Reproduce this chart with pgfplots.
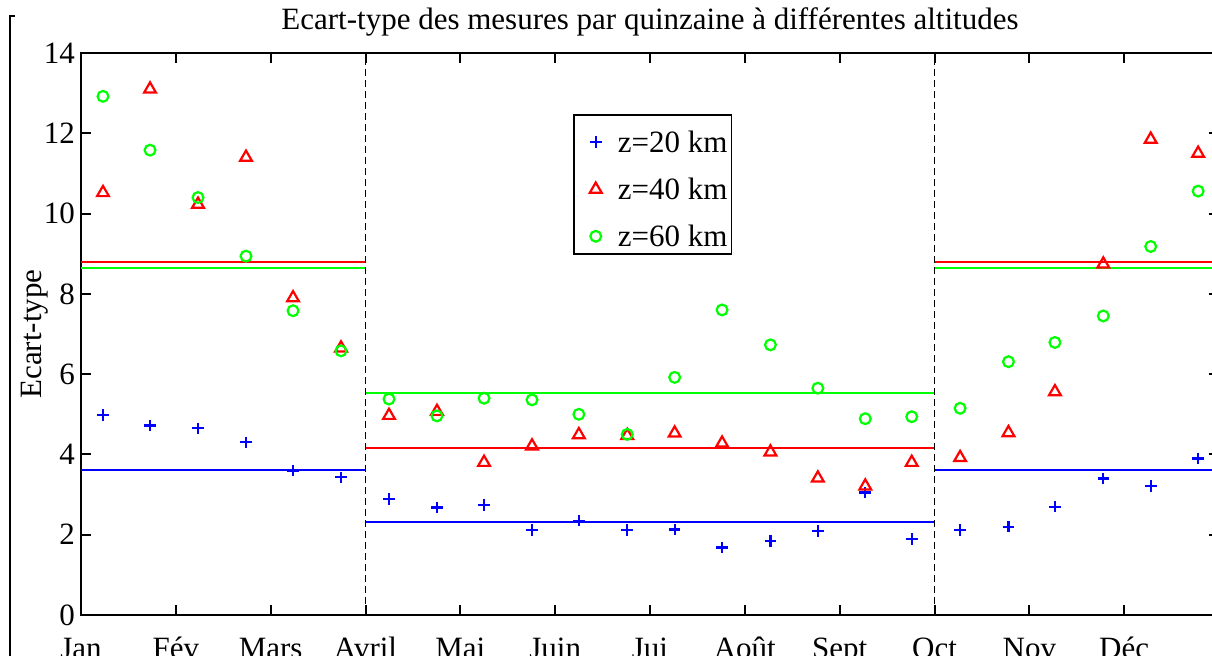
\documentclass[border=0pt]{standalone}
\usepackage{fontspec}
\setmainfont{Liberation Serif}
\usepackage{pgfplots}
\pgfplotsset{compat=1.18}
\usepackage{pgfplotstable}
\pgfplotsset{myleg/.style={legend image code/.code={%
  \draw[##1, only marks] plot coordinates {(0pt,-2.5pt)};
  \path[draw=none, fill=none] (-11pt,-8pt) rectangle (9pt,8pt);}}}

\pgfplotstableread{
x a b c
0.232 4.98 10.52 12.92
0.728 4.72 13.10 11.58
1.234 4.65 10.23 10.40
1.74 4.30 11.40 8.94
2.236 3.60 7.90 7.58
2.742 3.43 6.65 6.58
3.248 2.89 4.97 5.38
3.754 2.68 5.07 4.96
4.25 2.74 3.80 5.40
4.756 2.12 4.21 5.36
5.25 2.35 4.49 5.00
5.76 2.12 4.47 4.50
6.26 2.13 4.53 5.92
6.76 1.68 4.28 7.60
7.27 1.85 4.06 6.73
7.77 2.10 3.41 5.65
8.27 3.05 3.21 4.89
8.76 1.89 3.80 4.94
9.27 2.12 3.92 5.15
9.78 2.20 4.54 6.31
10.27 2.70 5.56 6.79
10.78 3.40 8.74 7.45
11.28 3.21 11.85 9.18
11.78 3.90 11.50 10.56
}\data

\begin{document}
\begin{tikzpicture}[font=\fontsize{15.5}{18.5}\selectfont]
\begin{axis}[
  scale only axis, width=569pt, height=281pt,
  xmin=0, xmax=12, ymin=0, ymax=14,
  xtick={0,...,11},
  xticklabels={Jan,Fév,Mars,Avril,Mai,Juin,Jui,Août,Sept,Oct,Nov,Déc},
  ytick={0,2,...,14},
  tick align=inside, major tick length=5pt,
  /pgf/number format/assume math mode=true,
  axis line style={line width=1pt},
  every tick/.style={black, line width=1pt},
  title={Ecart-type des mesures par quinzaine à différentes altitudes},
  title style={at={(axis description cs:0.5,1)}, anchor=base, yshift=6pt, inner sep=0pt},
  ylabel={Ecart-type},
  ylabel style={at={(axis description cs:-0.0343,0.5)}, anchor=base, inner sep=0pt},
  xticklabel style={anchor=base, yshift=-21.5pt},
  yticklabel style={xshift=0.5pt},
  legend style={at={(axis description cs:0.4323,0.8915)}, anchor=north west,
    draw=black, line width=0.8pt, inner xsep=0pt, inner ysep=1.5pt,
    row sep=4pt, nodes={inner sep=2pt, text height=15.5pt, text depth=0pt}},
  legend cell align=left,
]
% seasonal means
\addplot[red, line width=1pt, forget plot] coordinates {(0,8.79) (3,8.79)};
\addplot[green, line width=1pt, forget plot] coordinates {(0,8.64) (3,8.64)};
\addplot[blue, line width=1pt, forget plot] coordinates {(0,3.62) (3,3.62)};
\addplot[green, line width=1pt, forget plot] coordinates {(3,5.52) (9,5.52)};
\addplot[red, line width=1pt, forget plot] coordinates {(3,4.16) (9,4.16)};
\addplot[blue, line width=1pt, forget plot] coordinates {(3,2.32) (9,2.32)};
\addplot[red, line width=1pt, forget plot] coordinates {(9,8.79) (12,8.79)};
\addplot[green, line width=1pt, forget plot] coordinates {(9,8.64) (12,8.64)};
\addplot[blue, line width=1pt, forget plot] coordinates {(9,3.62) (12,3.62)};
% season separators
\addplot[black, line width=0.7pt, dash pattern=on 3.5pt off 2pt, forget plot] coordinates {(3,0) (3,14)};
\addplot[black, line width=0.7pt, dash pattern=on 3.5pt off 2pt, forget plot] coordinates {(9,0) (9,14)};
% measurements
\addplot[only marks, blue, mark=+, mark size=2.9pt, line width=1.1pt, myleg] table[x=x,y=a]{\data};
\addplot[only marks, red, mark=triangle, mark size=3.4pt, line width=1.1pt, myleg] table[x=x,y=b]{\data};
\addplot[only marks, green, mark=o, mark size=2.7pt, line width=1.1pt, myleg] table[x=x,y=c]{\data};
\legend{z=20 km, z=40 km, z=60 km}
\end{axis}
\draw[line width=1pt] (-33pt,299.5pt) -- (-35.5pt,299.5pt) -- (-35.5pt,-25pt);
\pgfresetboundingbox
\useasboundingbox (-40.5pt,-20pt) rectangle (565.5pt,307.5pt);
\end{tikzpicture}
\end{document}
